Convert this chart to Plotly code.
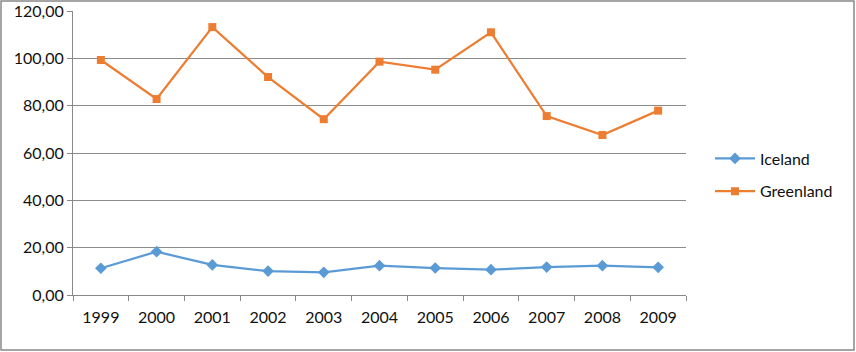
import plotly.graph_objects as go

years = ["1999", "2000", "2001", "2002", "2003", "2004", "2005", "2006", "2007", "2008", "2009"]
iceland = [11.3, 18.3, 12.7, 10.1, 9.6, 12.4, 11.4, 10.7, 11.8, 12.4, 11.7]
greenland = [99.3, 82.8, 113.2, 92.1, 74.3, 98.6, 95.2, 111.0, 75.6, 67.6, 77.9]
y_ticks = [0, 20, 40, 60, 80, 100, 120]

fig = go.Figure()
fig.add_trace(go.Scatter(x=years, y=iceland, name="Iceland", mode="lines+markers",
                         legendgroup="ice",
                         line=dict(color="#5B9BD5", width=2.25),
                         marker=dict(symbol="diamond", size=9, color="#5B9BD5")))
fig.add_trace(go.Scatter(x=years, y=greenland, name="Greenland", mode="lines+markers",
                         legendgroup="green",
                         line=dict(color="#ED7D31", width=2.25),
                         marker=dict(symbol="square", size=8, color="#ED7D31")))

L, R, T, B = 73, 170, 11, 57
W, H = 856, 352
pw, ph = W - L - R, H - T - B

fig.update_layout(
    width=W, height=H,
    margin=dict(l=L, r=R, t=T, b=B, autoexpand=False),
    paper_bgcolor="white", plot_bgcolor="white",
    separators=", ",
    font=dict(family="Lato, Open Sans, sans-serif", size=16, color="#111"),
    legend=dict(x=(710 - L) / pw, y=(295 - 175) / ph, xanchor="left", yanchor="middle",
                font=dict(size=16), tracegroupgap=9, itemwidth=40),
    showlegend=True,
    xaxis=dict(type="category", range=[-0.5, 10.5], showgrid=False, automargin=False,
               showline=True, linecolor="#888", linewidth=1,
               ticks="outside", tickson="boundaries", ticklen=5, tickcolor="#888",
               ticklabelstandoff=8),
    yaxis=dict(range=[0, 120], tickvals=y_ticks, tickformat=".2f", automargin=False,
               showgrid=True, gridcolor="#8c8c8c", gridwidth=1,
               showline=True, linecolor="#888", linewidth=1,
               ticks="outside", ticklen=5, tickcolor="#888", zeroline=False),
    shapes=[dict(type="rect", xref="paper", yref="paper",
                 x0=(1 - L) / pw, x1=(854 - L) / pw,
                 y0=(H - B - 350) / ph, y1=(H - B - 1) / ph,
                 line=dict(color="#888", width=1.5), fillcolor="rgba(0,0,0,0)", layer="below")],
)

fig.write_html("out.html", config={"displayModeBar": False},
               post_script="document.body.style.margin='0';document.body.style.padding='0';")
